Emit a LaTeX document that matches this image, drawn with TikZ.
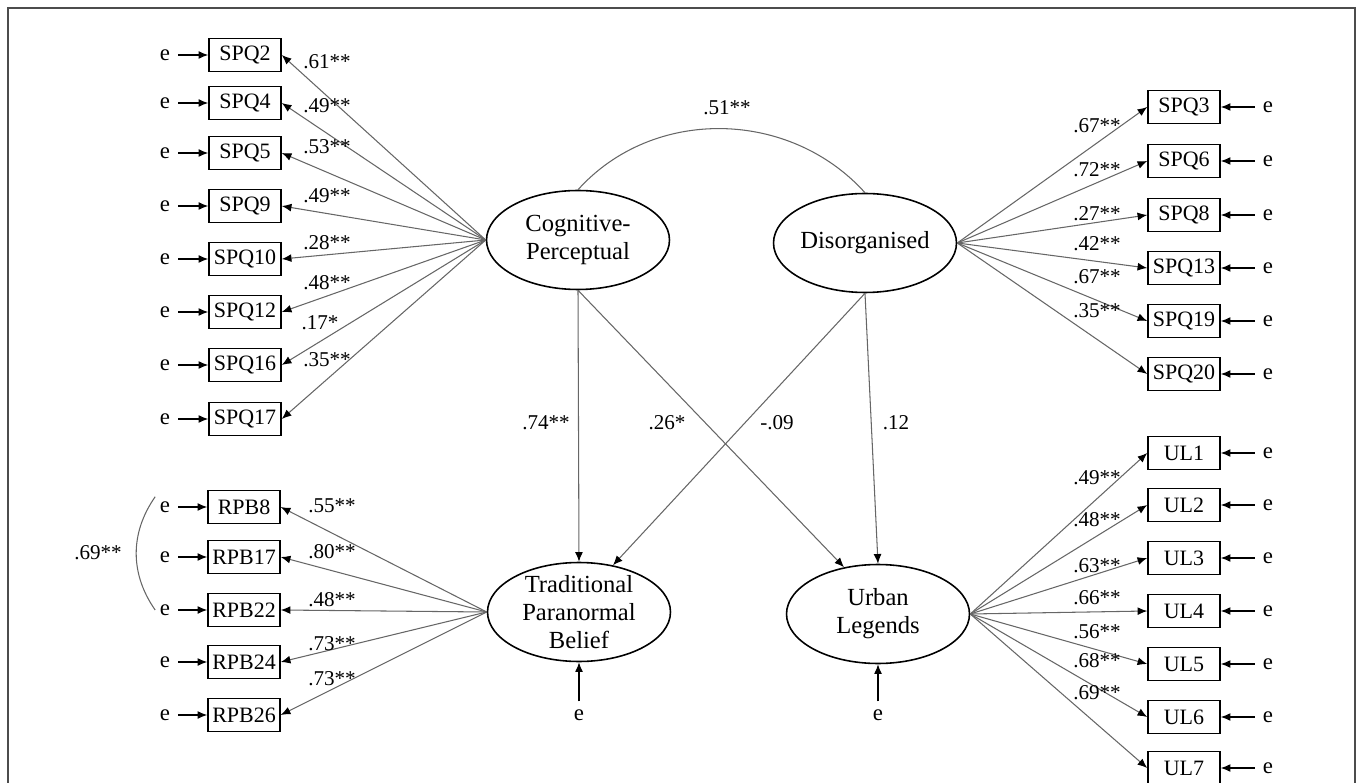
\documentclass[tikz,border=0pt]{standalone}
\usepackage{fontspec}
\setmainfont{Liberation Serif}
\usetikzlibrary{shapes.geometric,arrows.meta}
\begin{document}
\begin{tikzpicture}[x=0.02cm,y=0.02cm,
  ind/.style={draw, line width=0.9pt, minimum width=1.44cm, minimum height=0.66cm, inner sep=1pt, font=\fontsize{12.5}{14}\selectfont},
  lat/.style={ellipse, draw, line width=0.9pt, minimum width=3.66cm, minimum height=1.98cm, inner xsep=0pt, inner ysep=-6pt, align=center, font=\fontsize{14}{16}\selectfont},
  err/.style={inner sep=2.5pt, font=\fontsize{13}{14}\selectfont},
  coef/.style={inner sep=0pt, font=\fontsize{12}{14}\selectfont},
  link/.style={draw=black!60, line width=0.6pt, -{Latex[length=5.5pt,width=4.5pt,color=black]}},
  eline/.style={draw=black, line width=0.6pt, shorten <=2pt, -{Latex[length=5.5pt,width=4.5pt]}}]
\useasboundingbox (0,0) rectangle (1358,-783);
\draw [line width=0.8pt, black!70] (8,-783) -- (8,-8) -- (1355,-8) -- (1355,-783);
% latent variables
\node[lat] (cogper) at (578,-240) {Cognitive-\\Perceptual};
\node[lat] (disorg) at (865,-243) {Disorganised};
\node[lat] (tradpb) at (579,-612) {Traditional\\Paranormal\\Belief};
\node[lat] (urbleg) at (878,-614) {Urban\\Legends};
\draw [draw=black!60, line width=0.6pt] (cogper.north) to[out=48,in=132] (disorg.north); \node[coef] (r1) at (727,-108) {.51**};
% cognitive-perceptual items
\node[ind] (spq2) at (245,-55) {SPQ2}; \node[err] (e2) at (165,-55) {e}; \draw[eline] (e2) -- (spq2); \draw[link] (cogper.west) -- (spq2.east); \node[coef] (c2) at (327,-62) {.61**};
\node[ind] (spq4) at (245,-103) {SPQ4}; \node[err] (e4) at (165,-103) {e}; \draw[eline] (e4) -- (spq4); \draw[link] (cogper.west) -- (spq4.east); \node[coef] (c4) at (327,-106) {.49**};
\node[ind] (spq5) at (245,-153) {SPQ5}; \node[err] (e5) at (165,-153) {e}; \draw[eline] (e5) -- (spq5); \draw[link] (cogper.west) -- (spq5.east); \node[coef] (c5) at (327,-147) {.53**};
\node[ind] (spq9) at (245,-206) {SPQ9}; \node[err] (e9) at (165,-206) {e}; \draw[eline] (e9) -- (spq9); \draw[link] (cogper.west) -- (spq9.east); \node[coef] (c9) at (327,-196) {.49**};
\node[ind] (spq10) at (245,-259) {SPQ10}; \node[err] (e10) at (165,-259) {e}; \draw[eline] (e10) -- (spq10); \draw[link] (cogper.west) -- (spq10.east); \node[coef] (c10) at (327,-243) {.28**};
\node[ind] (spq12) at (245,-312) {SPQ12}; \node[err] (e12) at (165,-312) {e}; \draw[eline] (e12) -- (spq12); \draw[link] (cogper.west) -- (spq12.east); \node[coef] (c12) at (327,-283) {.48**};
\node[ind] (spq16) at (245,-365) {SPQ16}; \node[err] (e16) at (165,-365) {e}; \draw[eline] (e16) -- (spq16); \draw[link] (cogper.west) -- (spq16.east); \node[coef] (c16) at (320,-323) {.17*};
\node[ind] (spq17) at (245,-419) {SPQ17}; \node[err] (e17) at (165,-419) {e}; \draw[eline] (e17) -- (spq17); \draw[link] (cogper.west) -- (spq17.east); \node[coef] (c17) at (327,-360) {.35**};
% disorganised items
\node[ind] (spq3) at (1184,-107) {SPQ3}; \node[err] (e3) at (1268,-107) {e}; \draw[eline] (e3) -- (spq3); \draw[link] (disorg.east) -- (spq3.west); \node[coef] (c3) at (1097,-126) {.67**};
\node[ind] (spq6) at (1184,-161) {SPQ6}; \node[err] (e6) at (1268,-161) {e}; \draw[eline] (e6) -- (spq6); \draw[link] (disorg.east) -- (spq6.west); \node[coef] (c6) at (1097,-170) {.72**};
\node[ind] (spq8) at (1184,-215) {SPQ8}; \node[err] (e8) at (1268,-215) {e}; \draw[eline] (e8) -- (spq8); \draw[link] (disorg.east) -- (spq8.west); \node[coef] (c8) at (1097,-214) {.27**};
\node[ind] (spq13) at (1184,-268) {SPQ13}; \node[err] (e13) at (1268,-268) {e}; \draw[eline] (e13) -- (spq13); \draw[link] (disorg.east) -- (spq13.west); \node[coef] (c13) at (1097,-244) {.42**};
\node[ind] (spq19) at (1184,-321) {SPQ19}; \node[err] (e19) at (1268,-321) {e}; \draw[eline] (e19) -- (spq19); \draw[link] (disorg.east) -- (spq19.west); \node[coef] (c19) at (1097,-277) {.67**};
\node[ind] (spq20) at (1184,-374) {SPQ20}; \node[err] (e20) at (1268,-374) {e}; \draw[eline] (e20) -- (spq20); \draw[link] (disorg.east) -- (spq20.west); \node[coef] (c20) at (1097,-311) {.35**};
% paranormal belief items
\node[ind] (rpb8) at (244,-507) {RPB8}; \node[err] (eb8) at (165,-507) {e}; \draw[eline] (eb8) -- (rpb8); \draw[link] (tradpb.west) -- (rpb8.east); \node[coef] (b8) at (332,-506) {.55**};
\node[ind] (rpb17) at (244,-557) {RPB17}; \node[err] (eb17) at (165,-557) {e}; \draw[eline] (eb17) -- (rpb17); \draw[link] (tradpb.west) -- (rpb17.east); \node[coef] (b17) at (332,-552) {.80**};
\node[ind] (rpb22) at (244,-610) {RPB22}; \node[err] (eb22) at (165,-610) {e}; \draw[eline] (eb22) -- (rpb22); \draw[link] (tradpb.west) -- (rpb22.east); \node[coef] (b22) at (332,-600) {.48**};
\node[ind] (rpb24) at (244,-662) {RPB24}; \node[err] (eb24) at (165,-662) {e}; \draw[eline] (eb24) -- (rpb24); \draw[link] (tradpb.west) -- (rpb24.east); \node[coef] (b24) at (332,-644) {.73**};
\node[ind] (rpb26) at (244,-715) {RPB26}; \node[err] (eb26) at (165,-715) {e}; \draw[eline] (eb26) -- (rpb26); \draw[link] (tradpb.west) -- (rpb26.east); \node[coef] (b26) at (332,-679) {.73**};
\draw [draw=black!60, line width=0.6pt] (eb8.north west) to[out=235,in=125] (eb22.west); \node[coef] (r2) at (98,-553) {.69**};
% urban legend items
\node[ind] (ul1) at (1184,-453) {UL1}; \node[err] (eu1) at (1268,-453) {e}; \draw[eline] (eu1) -- (ul1); \draw[link] (urbleg.east) -- (ul1.west); \node[coef] (u1) at (1097,-478) {.49**};
\node[ind] (ul2) at (1184,-505) {UL2}; \node[err] (eu2) at (1268,-505) {e}; \draw[eline] (eu2) -- (ul2); \draw[link] (urbleg.east) -- (ul2.west); \node[coef] (u2) at (1097,-520) {.48**};
\node[ind] (ul3) at (1184,-558) {UL3}; \node[err] (eu3) at (1268,-558) {e}; \draw[eline] (eu3) -- (ul3); \draw[link] (urbleg.east) -- (ul3.west); \node[coef] (u3) at (1097,-566) {.63**};
\node[ind] (ul4) at (1184,-611) {UL4}; \node[err] (eu4) at (1268,-611) {e}; \draw[eline] (eu4) -- (ul4); \draw[link] (urbleg.east) -- (ul4.west); \node[coef] (u4) at (1097,-598) {.66**};
\node[ind] (ul5) at (1184,-664) {UL5}; \node[err] (eu5) at (1268,-664) {e}; \draw[eline] (eu5) -- (ul5); \draw[link] (urbleg.east) -- (ul5.west); \node[coef] (u5) at (1097,-632) {.56**};
\node[ind] (ul6) at (1184,-717) {UL6}; \node[err] (eu6) at (1268,-717) {e}; \draw[eline] (eu6) -- (ul6); \draw[link] (urbleg.east) -- (ul6.west); \node[coef] (u6) at (1097,-661) {.68**};
\node[ind] (ul7) at (1184,-768) {UL7}; \node[err] (eu7) at (1268,-768) {e}; \draw[eline] (eu7) -- (ul7); \draw[link] (urbleg.east) -- (ul7.west); \node[coef] (u7) at (1097,-693) {.69**};
% structural paths
\draw[link] (cogper.south) -- (tradpb.north); \node[coef] (p1) at (546,-423) {.74**};
\draw[link] (cogper.south) -- (urbleg.126); \node[coef] (p2) at (667,-423) {.26*};
\draw[link] (disorg.south) -- (tradpb.54); \node[coef] (p3) at (777,-423) {-.09};
\draw[link] (disorg.south) -- (urbleg.north); \node[coef] (p4) at (896,-423) {.12};
\node[err] (et) at (579,-715) {e}; \draw[eline] (et) -- (tradpb.south);
\node[err] (eu) at (878,-715) {e}; \draw[eline] (eu) -- (urbleg.south);
\end{tikzpicture}
\end{document}
